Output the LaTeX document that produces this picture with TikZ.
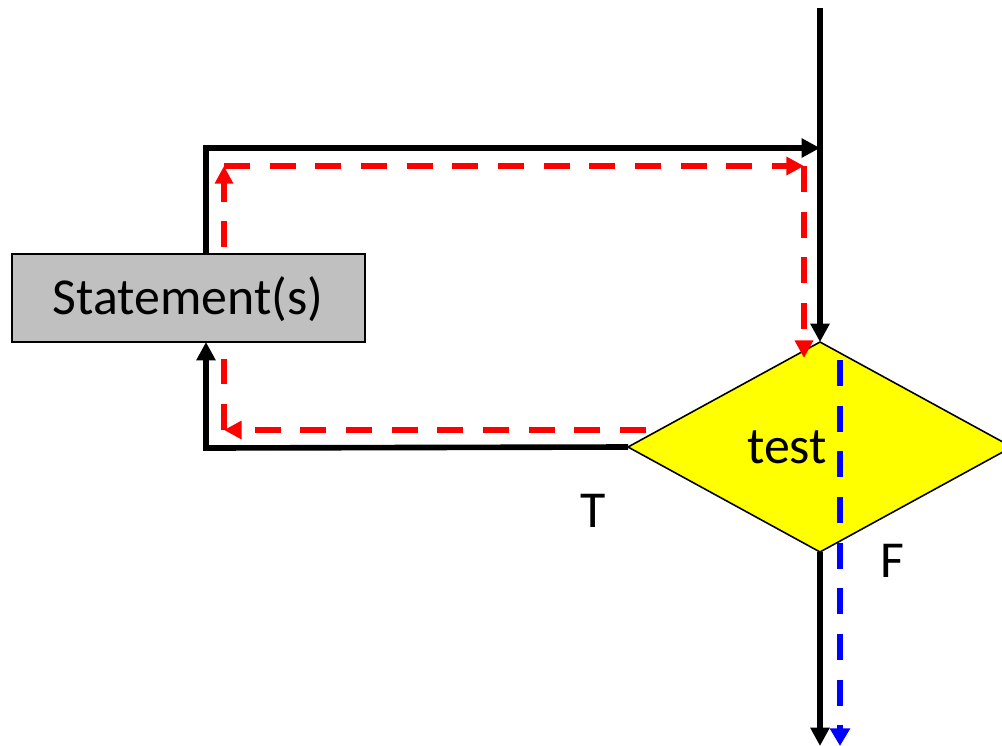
\documentclass[tikz,border=0pt]{standalone}
\usepackage{fontspec}
\setmainfont{Carlito}
\usetikzlibrary{arrows.meta,shapes.geometric}
\definecolor{boxgray}{RGB}{192,192,192}
\definecolor{loopred}{RGB}{255,0,0}
\definecolor{exitblue}{RGB}{0,0,255}
\definecolor{testyellow}{RGB}{255,255,0}

\tikzset{
  flow/.style={line width=3.2pt, -{Triangle[length=10.5pt,width=10.5pt]}},
  loopflow/.style={draw=loopred, line width=3.4pt, dash pattern=on 14.7pt off 11.3pt,
    -{Triangle[length=10pt,width=10pt,fill=loopred]}},
  exitflow/.style={draw=exitblue, line width=3.4pt, dash pattern=on 14.7pt off 11.3pt,
    -{Triangle[length=10pt,width=11pt,fill=exitblue]}},
  stmtbox/.style={rectangle, draw, line width=0.9pt, fill=boxgray, inner sep=0pt,
    minimum width=7.06cm, minimum height=1.76cm, outer sep=0pt},
  testbox/.style={diamond, draw, line width=0.9pt, fill=testyellow, inner sep=0pt,
    minimum width=7.68cm, minimum height=4.2cm, outer sep=0pt},
  bigtext/.style={font=\fontsize{29.5pt}{34pt}\selectfont, inner sep=0pt, anchor=base}
}

\begin{document}
\begin{tikzpicture}[x=0.02cm, y=-0.02cm]
            \clip (0,0) rectangle (1002,745);

            % corners of the loop
            \coordinate (entry) at (820,8);
            \coordinate (upleft) at (206,148);
            \coordinate (join) at (820,148);
            \coordinate (lowleft) at (206,448);
            \coordinate (exit) at (820,746);

            % red path of one pass
            \coordinate (r1) at (646,430);
            \coordinate (r2) at (224,430);
            \coordinate (r3) at (224,166);
            \coordinate (r4) at (804,166);
            \coordinate (r5) at (804,358);

            % blue way out
            \coordinate (b1) at (840,360);
            \coordinate (b2) at (840,746);

            % red going up behind the box
            \draw[loopflow] (r2) -- (r3);

            % Statement box and test
            \node[stmtbox] (stmt) at (188.5,298) {};
            \node[bigtext] (stmttext) at (188,314) {Statement(s)};
            \node[testbox] (test) at (820,447) {};
            \node[bigtext] (testtext) at (787,463) {test};
            \node[bigtext] (ttext) at (593,527) {T};
            \node[bigtext] (ftext) at (892,577) {F};

            % black flow
            \draw[flow] (entry) -- (test.north);
            \draw[flow] (stmt.north -| upleft) -- (upleft) -- (join);
            \draw[flow] (test.west) -- (lowleft) -- (stmt.south -| lowleft);
            \draw[flow] (test.south) -- (exit);

            % red loop
            \draw[loopflow] (r1) -- (r2);
            \draw[loopflow] (r3) -- (r4);
            \draw[loopflow] (r4) -- (r5);

            % blue exit
            \draw[exitflow] (b1) -- (b2);
        \end{tikzpicture}
\end{document}
